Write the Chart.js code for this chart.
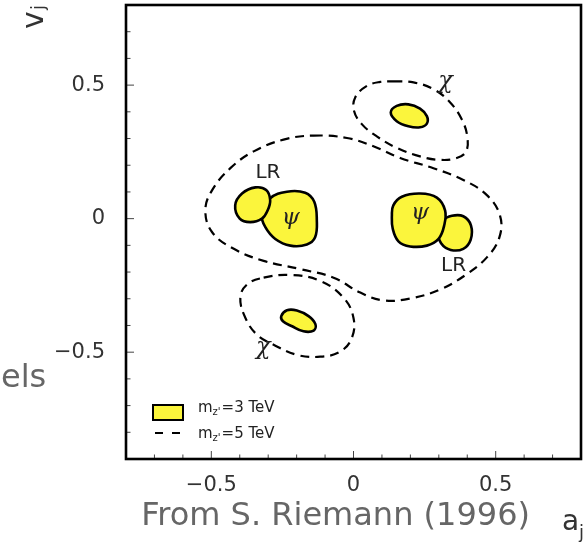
<!DOCTYPE html>
<html>
<head>
<meta charset="utf-8">
<script src="https://cdn.jsdelivr.net/npm/chart.js@4.4.0/dist/chart.umd.min.js"></script>
<style>
  html, body { margin: 0; padding: 0; background: #fff; }
  #wrap { width: 584px; height: 545px; }
</style>
</head>
<body>
<div id="wrap"><canvas id="chart" width="584" height="545"></canvas></div>
<script>
// contours, [a, v] pairs

// m_Z' = 5 TeV (dashed)
const loop5TeVMain = [
  [-0.140, 0.311], [-0.023, 0.302], [0.070, 0.271], [0.164, 0.227], [0.281, 0.189],
  [0.386, 0.145], [0.469, 0.088], [0.515, 0.012], [0.513, -0.070], [0.469, -0.145],
  [0.398, -0.208], [0.305, -0.265], [0.199, -0.299], [0.105, -0.306], [0.024, -0.277],
  [-0.070, -0.221], [-0.187, -0.189], [-0.316, -0.158], [-0.421, -0.113], [-0.497, -0.051],
  [-0.521, 0.031], [-0.497, 0.107], [-0.433, 0.189], [-0.351, 0.252], [-0.246, 0.296]
];
const loop5TeVChiUp = [
  [0.140, 0.514], [0.211, 0.510], [0.281, 0.485], [0.340, 0.435], [0.381, 0.371],
  [0.400, 0.308], [0.396, 0.252], [0.363, 0.227], [0.305, 0.220], [0.234, 0.233],
  [0.152, 0.265], [0.082, 0.308], [0.030, 0.353], [0.002, 0.403], [0.006, 0.454],
  [0.047, 0.497], [0.094, 0.512]
];
const loop5TeVChiDown = [
  [-0.316, -0.221], [-0.222, -0.211], [-0.117, -0.233], [-0.035, -0.296], [0.000, -0.372],
  [-0.006, -0.447], [-0.047, -0.498], [-0.117, -0.517], [-0.199, -0.510], [-0.281, -0.472],
  [-0.339, -0.435], [-0.380, -0.372], [-0.398, -0.296], [-0.374, -0.246]
];

// m_Z' = 3 TeV (yellow)
const blob3TeVChiUp = [
  [0.131, 0.397], [0.152, 0.422], [0.193, 0.428], [0.234, 0.412], [0.258, 0.384],
  [0.258, 0.356], [0.234, 0.342], [0.193, 0.346], [0.152, 0.365]
];
const blob3TeVChiDown = [
  [-0.254, -0.365], [-0.234, -0.343], [-0.199, -0.344], [-0.158, -0.365], [-0.134, -0.395],
  [-0.140, -0.419], [-0.176, -0.422], [-0.216, -0.403], [-0.248, -0.384]
];
const blob3TeVLRLeft = [
  [-0.416, 0.050], [-0.392, 0.094], [-0.345, 0.117], [-0.307, 0.107], [-0.293, 0.069],
  [-0.302, 0.031], [-0.322, 0.000], [-0.363, -0.013], [-0.400, 0.000]
];
const blob3TeVPsiLeft = [
  [-0.293, 0.076], [-0.234, 0.101], [-0.170, 0.097], [-0.138, 0.063], [-0.129, -0.006],
  [-0.135, -0.070], [-0.164, -0.097], [-0.222, -0.101], [-0.275, -0.076], [-0.310, -0.032],
  [-0.322, 0.012]
];
const blob3TeVPsiRight = [
  [0.140, 0.050], [0.170, 0.082], [0.234, 0.094], [0.293, 0.079], [0.322, 0.031],
  [0.319, -0.025], [0.299, -0.076], [0.258, -0.101], [0.199, -0.104], [0.158, -0.085],
  [0.138, -0.038], [0.135, 0.012]
];
const blob3TeVLRRight = [
  [0.316, -0.006], [0.346, 0.011], [0.386, 0.009], [0.413, -0.025], [0.412, -0.079],
  [0.386, -0.113], [0.342, -0.117], [0.308, -0.092], [0.299, -0.051]
];

// model labels placed in data units
const modelNames = ['LR', 'LR', '\u03C8', '\u03C8', '\u03C7', '\u03C7'];
const modelLabelA = [-0.301, 0.352, -0.221, 0.234, 0.324, -0.317];
const modelLabelV = [0.173, -0.175, 0.001, 0.022, 0.513, -0.483];

const xRange = [-0.8, 0.8];
const yRange = [-0.9, 0.8];
const legendLabels = ['=3 TeV', '=5 TeV'];

const YELLOW = '#fbf53c';

const toXY = pts => pts.map(p => ({ x: p[0], y: p[1] }));

function blob(pts) {
  return { data: toXY(pts), borderColor: '#000', borderWidth: 2.6, shapeFill: YELLOW,
           pointRadius: 0, tension: 0.4, fill: false };
}
function dashed(pts) {
  return { data: toXY(pts), borderColor: '#000', borderWidth: 2.2, borderDash: [9, 6],
           pointRadius: 0, tension: 0.4, fill: false };
}

function tickText(v) {
  const r = Math.round(v * 10) / 10;
  if (Math.abs(r * 2 - Math.round(r * 2)) > 1e-6) return '';
  if (Math.abs(r) < 1e-9) return '0';
  return (r < 0 ? '\u2212' : '') + Math.abs(r);
}

// closes each line into a smooth loop and fills the yellow ones
const closedShapes = {
  id: 'closedShapes',
  afterDatasetUpdate(chart, args) {
    const line = args.meta.dataset;
    if (!line) return;
    line._loop = true;
    line._fullLoop = true;
    line._pointsUpdated = false;
    line._segments = undefined;
    line._path = undefined;
  },
  beforeDatasetDraw(chart, args) {
    const ds = chart.data.datasets[args.index];
    if (!ds.shapeFill) return;
    const line = args.meta.dataset;
    const ctx = chart.ctx;
    line.updateControlPoints(chart.chartArea, 'x');
    ctx.save();
    ctx.beginPath();
    line.path(ctx);
    ctx.closePath();
    ctx.fillStyle = ds.shapeFill;
    ctx.fill();
    ctx.restore();
  }
};

const frameAndText = {
  id: 'frameAndText',
  afterDraw(chart) {
    const ctx = chart.ctx;
    const { left, right, top, bottom } = chart.chartArea;
    const sx = chart.scales.x, sy = chart.scales.y;

    // inward tick marks
    ctx.save();
    ctx.strokeStyle = '#444';
    ctx.lineWidth = 1;
    sx.ticks.forEach(t => {
      const px = sx.getPixelForValue(t.value);
      if (px < left + 2 || px > right - 2) return;
      const len = tickText(t.value) ? 8 : 4.5;
      ctx.beginPath(); ctx.moveTo(px, bottom); ctx.lineTo(px, bottom - len); ctx.stroke();
    });
    sy.ticks.forEach(t => {
      const py = sy.getPixelForValue(t.value);
      if (py < top + 2 || py > bottom - 2) return;
      const len = tickText(t.value) ? 8 : 4.5;
      ctx.beginPath(); ctx.moveTo(left, py); ctx.lineTo(left + len, py); ctx.stroke();
    });

    // frame
    ctx.strokeStyle = '#000';
    ctx.lineWidth = 2.6;
    ctx.strokeRect(left, top, right - left, bottom - top);

    // model labels
    ctx.fillStyle = '#222';
    ctx.textAlign = 'center';
    ctx.textBaseline = 'middle';
    modelNames.forEach((name, i) => {
      if (name === 'LR') ctx.font = '20px "DejaVu Sans"';
      else if (name === '\u03C8') ctx.font = 'italic 23px "DejaVu Serif"';
      else ctx.font = 'italic 24px "DejaVu Serif"';
      ctx.fillText(name, sx.getPixelForValue(modelLabelA[i]), sy.getPixelForValue(modelLabelV[i]));
    });

    // legend inside the frame
    ctx.textAlign = 'left';
    ctx.textBaseline = 'alphabetic';
    ctx.fillStyle = YELLOW;
    ctx.fillRect(153, 405, 30, 15);
    ctx.lineWidth = 2;
    ctx.strokeStyle = '#000';
    ctx.strokeRect(153, 405, 30, 15);
    ctx.lineWidth = 2.2;
    ctx.setLineDash([8, 9]);
    ctx.beginPath(); ctx.moveTo(155, 433); ctx.lineTo(181, 433); ctx.stroke();
    ctx.setLineDash([]);
    ctx.fillStyle = '#222';
    [412, 438].forEach((yb, i) => {
      let x = 198;
      ctx.font = '15px "DejaVu Sans"';
      ctx.fillText('m', x, yb);
      x += ctx.measureText('m').width;
      ctx.font = '10px "DejaVu Sans"';
      ctx.fillText("z'", x, yb + 3);
      x += ctx.measureText("z'").width + 1;
      ctx.font = '15px "DejaVu Sans"';
      ctx.fillText(legendLabels[i], x, yb);
    });

    // axis titles, partly cut off as in the figure
    ctx.fillStyle = '#333';
    ctx.font = '28px "DejaVu Sans"';
    ctx.fillText('a', 562, 530);
    ctx.font = '18px "DejaVu Sans"';
    ctx.fillText('j', 579, 538);
    ctx.save();
    ctx.translate(43, 29);
    ctx.rotate(-Math.PI / 2);
    ctx.font = '30px "DejaVu Sans"';
    ctx.fillText('v', 0, 0);
    ctx.font = '18px "DejaVu Sans"';
    ctx.fillText('j', 19, 1);
    ctx.restore();

    // slide text around the figure
    ctx.fillStyle = '#666';
    ctx.font = '32px "DejaVu Sans"';
    ctx.textAlign = 'right';
    ctx.fillText('From S. Riemann (1996)', 530, 525);
    ctx.textAlign = 'left';
    ctx.fillText('els', 1, 387);
    ctx.restore();
  }
};

const axisFont = { family: 'DejaVu Sans', size: 21 };

new Chart(document.getElementById('chart'), {
  type: 'line',
  data: {
    datasets: [
      blob(blob3TeVLRLeft), blob(blob3TeVPsiLeft), blob(blob3TeVPsiRight), blob(blob3TeVLRRight),
      blob(blob3TeVChiUp), blob(blob3TeVChiDown),
      dashed(loop5TeVMain), dashed(loop5TeVChiUp), dashed(loop5TeVChiDown)
    ]
  },
  options: {
    responsive: false,
    animation: false,
    layout: { padding: { left: 0, top: 5, right: 3, bottom: 0 } },
    plugins: { legend: { display: false }, tooltip: { enabled: false } },
    scales: {
      x: {
        type: 'linear', min: xRange[0], max: xRange[1],
        grid: { display: false }, border: { display: false },
        ticks: { stepSize: 0.1, autoSkip: false, maxRotation: 0, padding: 6,
                 color: '#333', font: axisFont, callback: v => tickText(v) },
        afterFit: s => { s.height = 86; s.paddingLeft = 0; s.paddingRight = 0; }
      },
      y: {
        type: 'linear', min: yRange[0], max: yRange[1],
        grid: { display: false }, border: { display: false },
        ticks: { stepSize: 0.1, autoSkip: false, padding: 13,
                 color: '#333', font: axisFont, callback: v => tickText(v) },
        afterFit: s => { s.width = 126; s.paddingTop = 0; s.paddingBottom = 0; }
      }
    }
  },
  plugins: [closedShapes, frameAndText]
});
</script>
</body>
</html>
